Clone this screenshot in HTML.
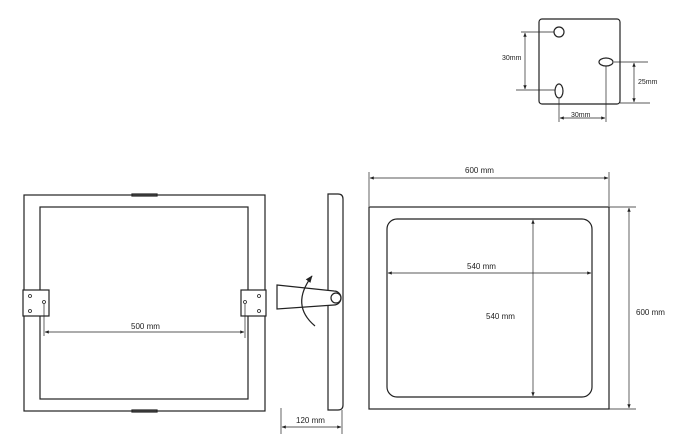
<!DOCTYPE html>
<html><head><style>body{margin:0;background:#fff}svg{display:block}text{font-family:"Liberation Sans",sans-serif;fill:#222}</style></head>
<body>
<svg width="675" height="438" viewBox="0 0 675 438" xmlns="http://www.w3.org/2000/svg">
<defs><marker id="a" viewBox="0 0 10 10" refX="9" refY="5" markerWidth="6" markerHeight="6" orient="auto-start-reverse"><path d="M0,1 L10,5 L0,9z" fill="#222"/></marker></defs>
<g stroke="#222" fill="none" stroke-width="1.2">
<rect x="539" y="19" width="81" height="85" rx="3"/>
<circle cx="559" cy="32" r="5"/>
<ellipse cx="559" cy="91" rx="4" ry="7"/>
<ellipse cx="606" cy="62" rx="7" ry="4"/>
<g stroke-width="0.7">
<line x1="521" y1="32" x2="554" y2="32"/><line x1="516" y1="90" x2="555" y2="90"/>
<line x1="525" y1="33" x2="525" y2="89" marker-start="url(#a)" marker-end="url(#a)"/>
<line x1="614" y1="62" x2="648" y2="62"/><line x1="620" y1="103" x2="650" y2="103"/>
<line x1="634" y1="63" x2="634" y2="102" marker-start="url(#a)" marker-end="url(#a)"/>
<line x1="559" y1="99" x2="559" y2="122"/><line x1="606" y1="66" x2="606" y2="122"/>
<line x1="560" y1="118" x2="605" y2="118" marker-start="url(#a)" marker-end="url(#a)"/>
</g>
<rect x="24" y="195" width="241" height="216"/>
<rect x="40" y="207" width="208" height="192"/>
<rect x="132" y="194" width="25" height="2" fill="#555"/>
<rect x="132" y="410" width="25" height="2" fill="#555"/>
<rect x="23" y="290" width="26" height="26" fill="#fff"/>
<rect x="241" y="290" width="25" height="26" fill="#fff"/>
<g stroke-width="0.8"><circle cx="30" cy="296" r="1.5"/><circle cx="30" cy="311" r="1.5"/><circle cx="44" cy="302" r="1.5"/>
<circle cx="259" cy="296" r="1.5"/><circle cx="259" cy="311" r="1.5"/><circle cx="245" cy="302" r="1.5"/></g>
<g stroke-width="0.7"><line x1="44" y1="304" x2="44" y2="336"/><line x1="245" y1="304" x2="245" y2="338"/>
<line x1="45" y1="332" x2="244" y2="332" marker-start="url(#a)" marker-end="url(#a)"/></g>
<path d="M328,194 L338,194 Q343,194 343,199 L343,405 Q343,410 338,410 L328,410 Z"/>
<path d="M277,285 L334,291 A7,7 0 0 1 334,305 L277,309 Z" fill="#fff"/>
<circle cx="336" cy="298" r="5"/>
<path d="M315,326 Q290,305 312,276" marker-end="url(#a)"/>
<g stroke-width="0.7"><line x1="281" y1="408" x2="281" y2="434"/><line x1="342" y1="410" x2="342" y2="434"/>
<line x1="282" y1="427" x2="341" y2="427" marker-start="url(#a)" marker-end="url(#a)"/></g>
<rect x="369" y="207" width="240" height="202"/>
<rect x="387" y="219" width="205" height="178" rx="10"/>
<g stroke-width="0.7">
<line x1="369" y1="172" x2="369" y2="206"/><line x1="609" y1="172" x2="609" y2="206"/>
<line x1="370" y1="178" x2="608" y2="178" marker-start="url(#a)" marker-end="url(#a)"/>
<line x1="609" y1="207" x2="636" y2="207"/><line x1="609" y1="409" x2="636" y2="409"/>
<line x1="629" y1="208" x2="629" y2="408" marker-start="url(#a)" marker-end="url(#a)"/>
<line x1="388" y1="273" x2="591" y2="273" marker-start="url(#a)" marker-end="url(#a)"/>
<line x1="533" y1="220" x2="533" y2="396" marker-start="url(#a)" marker-end="url(#a)"/>
</g>
</g>
<g font-size="7">
<text x="502" y="60">30mm</text><text x="638" y="84">25mm</text><text x="571" y="117">30mm</text>
</g>
<g font-size="8">
<text x="131" y="329">500 mm</text>
<text x="296" y="423">120 mm</text>
<text x="465" y="173">600 mm</text>
<text x="636" y="315">600 mm</text>
<text x="467" y="269">540 mm</text>
<text x="486" y="319">540 mm</text>
</g>
</svg>
</body></html>
